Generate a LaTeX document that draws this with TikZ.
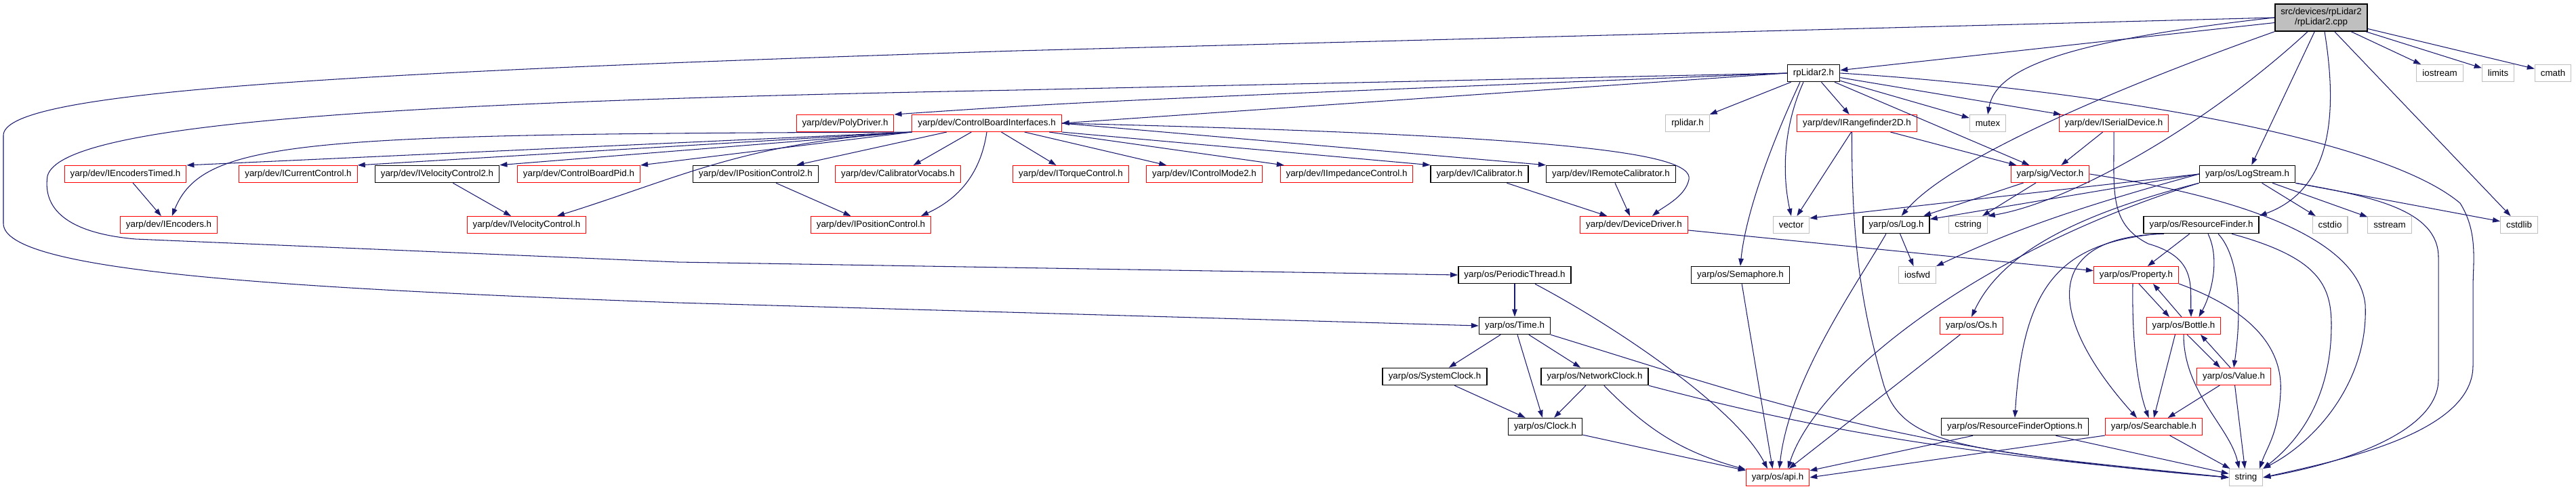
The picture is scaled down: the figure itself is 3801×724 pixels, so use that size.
\documentclass[tikz,border=0pt]{standalone}
\usepackage{fontspec}
\newfontfamily\graphfont{Liberation Sans}
\usepackage{tikz}
\usetikzlibrary{arrows.meta}
\definecolor{edgec}{HTML}{191970}
\definecolor{trunc}{HTML}{FF0000}
\definecolor{sysinc}{HTML}{BFBFBF}
\definecolor{srcfill}{HTML}{BFBFBF}
\tikzset{
  incl/.style={draw=#1,fill=white,line width=0.6pt,minimum height=0.5cm,inner xsep=0.17cm,inner ysep=0pt,
               font=\graphfont\fontsize{7.6}{8.5}\selectfont},
  incl/.default=black,
  doc/.style={incl=black,line width=0.9pt},
  src/.style={doc,fill=srcfill,minimum height=0.8cm,align=center},
  dep/.style={-{Triangle[length=0.22cm,width=0.15cm]},draw=edgec,line width=0.6pt},
}
\begin{document}
\begin{tikzpicture}[x=0.02cm,y=-0.02cm]
  \useasboundingbox (0,0) rectangle (3801,724);
  % rank 0 and 1
  \node[src] (root) at (3425,26) {src/devices/rpLidar2\\/rpLidar2.cpp};
  \node[incl=sysinc] (iostream) at (3600,108) {iostream};
  \node[incl=sysinc] (limits) at (3686,108) {limits};
  \node[incl=sysinc] (cmath) at (3767,108) {cmath};
  \node[doc] (rpl2h) at (2676,108) {rpLidar2.h};
  % rank 2
  \node[incl=trunc] (poly) at (1247,182) {yarp/dev/PolyDriver.h};
  \node[incl=trunc] (cbi) at (1456,182) {yarp/dev/ControlBoardInterfaces.h};
  \node[incl=sysinc] (rplidar) at (2490,182) {rplidar.h};
  \node[incl=trunc] (rf2d) at (2740,182) {yarp/dev/IRangefinder2D.h};
  \node[incl=sysinc] (mutex) at (2933,182) {mutex};
  \node[incl=trunc] (iserial) at (3119,182) {yarp/dev/ISerialDevice.h};
  % rank 3
  \node[incl=trunc] (ienct) at (185,257) {yarp/dev/IEncodersTimed.h};
  \node[incl=trunc] (icurr) at (440,257) {yarp/dev/ICurrentControl.h};
  \node[doc] (ivel2) at (645,257) {yarp/dev/IVelocityControl2.h};
  \node[incl=trunc] (cbpid) at (854,257) {yarp/dev/ControlBoardPid.h};
  \node[doc] (ipos2) at (1115,257) {yarp/dev/IPositionControl2.h};
  \node[incl=trunc] (calvoc) at (1325,257) {yarp/dev/CalibratorVocabs.h};
  \node[incl=trunc] (itorq) at (1580,257) {yarp/dev/ITorqueControl.h};
  \node[incl=trunc] (icm2) at (1777,257) {yarp/dev/IControlMode2.h};
  \node[incl=trunc] (iimp) at (1987,257) {yarp/dev/IImpedanceControl.h};
  \node[doc] (ical) at (2183,257) {yarp/dev/ICalibrator.h};
  \node[doc] (iremcal) at (2377,257) {yarp/dev/IRemoteCalibrator.h};
  \node[incl=trunc] (vect) at (3025,257) {yarp/sig/Vector.h};
  \node[doc] (logstr) at (3316,257) {yarp/os/LogStream.h};
  % rank 4
  \node[incl=trunc] (ienc) at (249,332) {yarp/dev/IEncoders.h};
  \node[incl=trunc] (ivel) at (777,332) {yarp/dev/IVelocityControl.h};
  \node[incl=trunc] (ipos) at (1285,332) {yarp/dev/IPositionControl.h};
  \node[incl=trunc] (devdrv) at (2411,332) {yarp/dev/DeviceDriver.h};
  \node[incl=sysinc] (vector) at (2643,332) {vector};
  \node[doc] (log) at (2798,332) {yarp/os/Log.h};
  \node[incl=sysinc] (cstring) at (2904,332) {cstring};
  \node[doc] (resf) at (3248,332) {yarp/os/ResourceFinder.h};
  \node[incl=sysinc] (cstdio) at (3438,332) {cstdio};
  \node[incl=sysinc] (sstream) at (3526,332) {sstream};
  \node[incl=sysinc] (cstdlib) at (3717,332) {cstdlib};
  % rank 5 to 9
  \node[doc] (perth) at (2235,406) {yarp/os/PeriodicThread.h};
  \node[doc] (sema) at (2568,406) {yarp/os/Semaphore.h};
  \node[incl=sysinc] (iosfwd) at (2829,406) {iosfwd};
  \node[incl=trunc] (prop) at (3152,406) {yarp/os/Property.h};
  \node[doc] (time) at (2235,481) {yarp/os/Time.h};
  \node[incl=trunc] (os) at (2909,481) {yarp/os/Os.h};
  \node[incl=trunc] (bottle) at (3222,481) {yarp/os/Bottle.h};
  \node[doc] (sysclk) at (2117,556) {yarp/os/SystemClock.h};
  \node[doc] (netclk) at (2353,556) {yarp/os/NetworkClock.h};
  \node[incl=trunc] (value) at (3296,556) {yarp/os/Value.h};
  \node[doc] (clock) at (2280,630) {yarp/os/Clock.h};
  \node[doc] (rfopt) at (2973,630) {yarp/os/ResourceFinderOptions.h};
  \node[incl=trunc] (search) at (3178,630) {yarp/os/Searchable.h};
  \node[incl=trunc] (api) at (2623,705) {yarp/os/api.h};
  \node[incl=sysinc] (string) at (3314,705) {string};

  % includes of the source file
  \draw[dep] (root.west) -- (1500,75) .. controls (400,110) and (5,140) .. (5,200) -- (5,330)
             .. controls (5,400) and (400,425) .. (1000,447) -- (time.west);
  \draw[dep] (root) -- (rpl2h);
  \draw[dep] (root.west) .. controls (3050,60) and (2945,100) .. (mutex.north);
  \draw[dep] (root.south west) .. controls (3150,120) and (2880,230) .. (log.60);
  \draw[dep] ([xshift=-0.4cm]root.south) .. controls (3250,190) and (3050,300) .. (cstring.north east);
  \draw[dep] (root) -- (logstr);
  \draw[dep] ([xshift=0.1cm]root.south) .. controls (3450,170) and (3440,280) .. (resf.north east);
  \draw[dep] (root) -- (cstdlib);
  \draw[dep] (root) -- (iostream);
  \draw[dep] (root) -- (limits);
  \draw[dep] (root) -- (cmath);

  % rpLidar2.h
  \draw[dep] (rpl2h.west) .. controls (1600,150) .. (poly.north east);
  \draw[dep] (rpl2h.west) -- (cbi.east);
  \draw[dep] (rpl2h.west) -- (1500,133) .. controls (600,150) and (90,180) .. (70,260)
             .. controls (62,315) and (110,345) .. (200,353) -- (1000,387) -- (perth.west);
  \draw[dep] (rpl2h) -- (rplidar);
  \draw[dep] (rpl2h) -- (rf2d);
  \draw[dep] (rpl2h) -- (mutex);
  \draw[dep] (rpl2h) -- (iserial);
  \draw[dep] (rpl2h) -- (vect);
  \draw[dep] ([xshift=-0.3cm]rpl2h.south) .. controls (2630,190) and (2630,260) .. (vector.north);
  \draw[dep] ([xshift=-0.4cm]rpl2h.south) .. controls (2610,220) and (2575,320) .. (sema.north);
  \draw[dep] (rpl2h.east) .. controls (3000,125) and (3500,190) .. (3630,300)
             .. controls (3655,340) and (3650,380) .. (3649,420) -- (3649,540)
             .. controls (3649,640) and (3450,680) .. (string.east);

  % ControlBoardInterfaces.h
  \draw[dep] (cbi.south west) -- (ienct.north east);
  \draw[dep] (cbi.south west) .. controls (450,198) and (300,205) .. (ienc.70);
  \draw[dep] (cbi.south west) -- (icurr.north east);
  \draw[dep] (cbi.south west) -- (ivel2.north east);
  \draw[dep] (cbi.south west) -- (cbpid.north east);
  \draw[dep] (cbi.south west) .. controls (1100,210) and (1010,260) .. ([xshift=0.9cm]ivel.north);
  \draw[dep] (cbi) -- (ipos2);
  \draw[dep] (cbi) -- (calvoc);
  \draw[dep] (cbi.south) .. controls (1445,270) and (1400,300) .. ([xshift=1.48cm]ipos.north);
  \draw[dep] (cbi) -- (itorq);
  \draw[dep] (cbi) -- (icm2);
  \draw[dep] (cbi) -- (iimp);
  \draw[dep] (cbi.south east) -- (ical.north west);
  \draw[dep] (cbi.east) -- (iremcal.north west);
  \draw[dep] (cbi.east) .. controls (2300,200) and (2500,225) .. (2492,265)
             .. controls (2487,290) and (2455,305) .. ([xshift=0.54cm]devdrv.north);
  \draw[dep] (ienct) -- (ienc);
  \draw[dep] (ivel2) -- (ivel);
  \draw[dep] (ipos2) -- (ipos);
  \draw[dep] (ical) -- (devdrv);
  \draw[dep] (iremcal) -- (devdrv);
  \draw[dep] (devdrv) -- (prop);

  % IRangefinder2D.h, ISerialDevice.h, Vector.h
  \draw[dep] (rf2d) -- (vector);
  \draw[dep] (rf2d) -- (vect);
  \draw[dep] ([xshift=-0.15cm]rf2d.south) .. controls (2732,350) and (2745,450) .. (2780,570)
             .. controls (2810,660) and (2900,665) .. (string.west);
  \draw[dep] (iserial) -- (vect);
  \draw[dep] (iserial.south) .. controls (3120,280) and (3110,330) .. (3170,360)
             .. controls (3240,380) and (3232,420) .. ([xshift=0.22cm]bottle.north);
  \draw[dep] (vect) -- (log);
  \draw[dep] (vect) -- (cstring);
  \draw[dep] (vect.east) .. controls (3300,290) and (3480,350) .. (3490,450)
             .. controls (3495,560) and (3420,650) .. (string.north east);

  % LogStream.h and Log.h
  \draw[dep] (logstr.west) -- (log);
  \draw[dep] (logstr.west) -- (vector.20);
  \draw[dep] (logstr.west) .. controls (3050,310) and (2960,345) .. (iosfwd.north east);
  \draw[dep] (logstr.south west) .. controls (3050,320) and (2950,380) .. (os.north);
  \draw[dep] (logstr.south west) .. controls (2920,370) and (2680,560) .. ([xshift=0.3cm]api.north);
  \draw[dep] (logstr) -- (cstdio);
  \draw[dep] (logstr) -- (sstream);
  \draw[dep] (logstr) -- (cstdlib);
  \draw[dep] (logstr.south east) .. controls (3500,290) and (3598,310) .. (3598,380) -- (3598,560)
             .. controls (3598,640) and (3450,685) .. (string.east);
  \draw[dep] (log) -- (iosfwd);
  \draw[dep] ([xshift=-0.3cm]log.south) .. controls (2740,420) and (2640,560) .. ([xshift=0.05cm]api.north);

  % ResourceFinder.h
  \draw[dep] (resf) -- (prop);
  \draw[dep] ([xshift=0.2cm]resf.south) .. controls (3275,380) and (3265,430) .. ([xshift=0.45cm]bottle.north);
  \draw[dep] ([xshift=0.5cm]resf.south) .. controls (3305,380) and (3308,460) .. (value.north);
  \draw[dep] ([xshift=-1.1cm]resf.south) .. controls (3000,350) and (3030,480) .. ([xshift=-0.5cm]search.north);
  \draw[dep] ([xshift=-1.3cm]resf.south) .. controls (3040,360) and (2985,420) .. (rfopt.north);
  \draw[dep] ([xshift=0.9cm]resf.south) .. controls (3420,380) and (3440,420) .. (3440,480)
             .. controls (3440,600) and (3380,660) .. (string.north east);

  % Property.h, Bottle.h, Value.h, Searchable.h
  \draw[dep] ([xshift=0.08cm]prop.south) -- ([xshift=-0.42cm]bottle.north);
  \draw[dep] ([xshift=-0.06cm]bottle.north) -- ([xshift=0.5cm]prop.south);
  \draw[dep] ([xshift=-0.1cm]prop.south) .. controls (3146,480) and (3150,560) .. ([xshift=-0.15cm]search.north);
  \draw[dep] (prop.south east) .. controls (3300,450) and (3370,500) .. (3365,580)
             .. controls (3362,640) and (3345,660) .. ([xshift=0.4cm]string.north);
  \draw[dep] ([xshift=0.1cm]bottle.south) -- ([xshift=-0.4cm]value.north);
  \draw[dep] ([xshift=-0.1cm]value.north) -- ([xshift=0.5cm]bottle.south);
  \draw[dep] ([xshift=-0.25cm]bottle.south) -- (search.north);
  \draw[dep] (bottle.south) .. controls (3222,580) and (3290,630) .. ([xshift=-0.2cm]string.north);
  \draw[dep] (value) -- (search);
  \draw[dep] (value) -- (string);
  \draw[dep] (search.south west) -- (api.east);
  \draw[dep] (search) -- (string);
  \draw[dep] (rfopt) -- (api);
  \draw[dep] (rfopt) -- (string);

  % PeriodicThread.h, Time.h and clocks
  \draw[dep] (perth) -- (time);
  \draw[dep] ([xshift=0.6cm]perth.south) .. controls (2380,480) and (2560,600) .. ([xshift=-0.3cm]api.north);
  \draw[dep] (sema) -- ([xshift=-0.15cm]api.north);
  \draw[dep] (os) -- (api);
  \draw[dep] (time) -- (sysclk);
  \draw[dep] (time) -- (netclk);
  \draw[dep] (time) -- (clock);
  \draw[dep] (time.south east) .. controls (2600,590) and (2800,665) .. (string.west);
  \draw[dep] (sysclk) -- (clock);
  \draw[dep] (netclk) -- (clock);
  \draw[dep] (netclk) to[bend right=15] (api);
  \draw[dep] (netclk.south east) .. controls (2700,640) and (2900,670) .. (string.west);
  \draw[dep] (clock) -- (api);
\end{tikzpicture}
\end{document}
